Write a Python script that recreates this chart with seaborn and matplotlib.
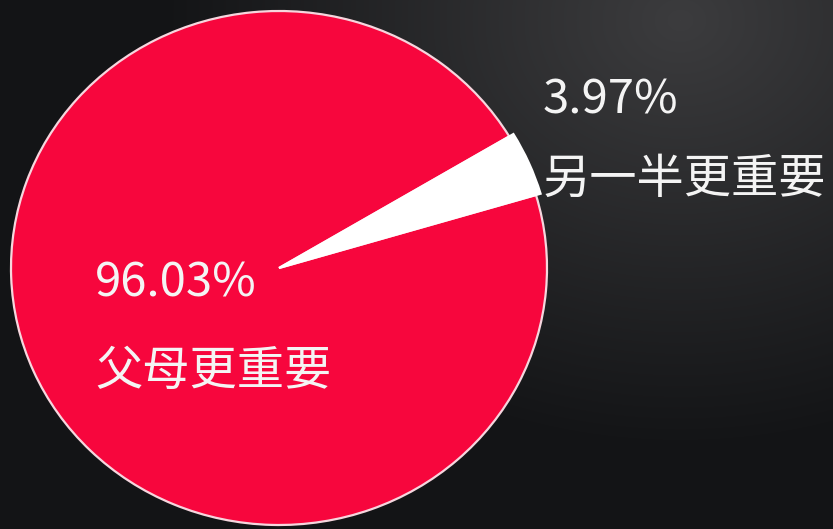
import numpy as np
import matplotlib
matplotlib.use("Agg")
import matplotlib.pyplot as plt
import seaborn as sns

# Data
categories = ["父母更重要", "另一半更重要"]
values = [96.03, 3.97]
pct_labels = ["96.03%", "3.97%"]
colors = ["#F7063D", "#FFFFFF"]

sns.set_theme(style="white")
plt.rcParams['font.family'] = ['Noto Sans CJK SC', 'DejaVu Sans']

W, H = 833, 529
fig = plt.figure(figsize=(W / 100, H / 100), dpi=100)

# Background gradient
bg = fig.add_axes([0, 0, 1, 1])
yy, xx = np.mgrid[0:H, 0:W]
d = np.sqrt(((xx - 680) / 520.0) ** 2 + ((yy - 20) / 430.0) ** 2)
t = np.clip(d, 0, 1)
light = np.array([0x3c, 0x3c, 0x3e]) / 255.0
dark = np.array([0x13, 0x14, 0x16]) / 255.0
img = light[None, None, :] * (1 - t[..., None]) + dark[None, None, :] * t[..., None]
bg.imshow(img, extent=[0, W, H, 0], aspect='auto')
bg.set_xlim(0, W)
bg.set_ylim(H, 0)
bg.axis('off')

# Pie axes (slightly stretched horizontally, as in the reference)
left, right, top, bottom = 11, 547, 11, 525
ax = fig.add_axes([left / W, (H - bottom) / H, (right - left) / W, (bottom - top) / H])
wedges, _ = ax.pie(values, colors=colors, startangle=16.5, counterclock=False,
                   radius=1.0,
                   wedgeprops=dict(edgecolor="#F6D6DE", linewidth=1.6))
wedges[1].set_edgecolor("#FFFFFF")
wedges[1].set_radius(1.018)
ax.set_aspect('auto')
ax.set_xlim(-1, 1)
ax.set_ylim(-1, 1)
ax.axis('off')
for w in wedges:
    w.set_clip_on(False)

fs = 34
tc = "#F4F4F4"
fig.text(95 / W, 1 - 283 / H, pct_labels[0], fontsize=fs, color=tc, ha='left', va='center')
fig.text(95 / W, 1 - 372 / H, categories[0], fontsize=fs, color=tc, ha='left', va='center')
fig.text(543 / W, 1 - 100 / H, pct_labels[1], fontsize=fs, color=tc, ha='left', va='center')
fig.text(543 / W, 1 - 180 / H, categories[1], fontsize=fs, color=tc, ha='left', va='center')

fig.savefig("out.png", dpi=100)
